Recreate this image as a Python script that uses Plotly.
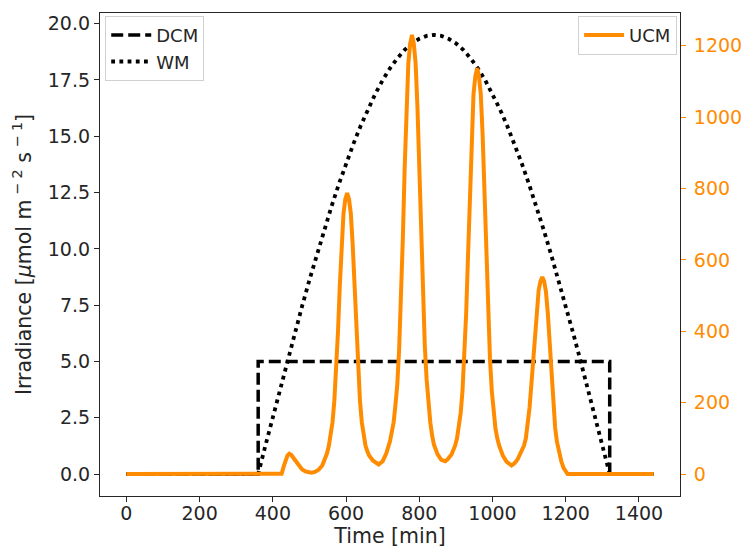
import plotly.graph_objects as go

# ---- data ----
dcm_t = [0, 360, 360, 1320, 1320, 1440]
dcm_v = [0, 0, 5, 5, 0, 0]

wm_t = [0, 360, 380, 400, 420, 440, 460, 480, 500, 520, 540, 560, 580, 600, 620, 640, 660,
        680, 700, 720, 740, 760, 780, 800, 820, 840, 860, 880, 900, 920, 940, 960, 980, 1000,
        1020, 1040, 1060, 1080, 1100, 1120, 1140, 1160, 1180, 1200, 1220, 1240, 1260, 1280,
        1300, 1320, 1440]
wm_v = [0, 0, 1.28, 2.54, 3.80, 5.05, 6.27, 7.46, 8.62, 9.75, 10.83, 11.87, 12.86, 13.79,
        14.66, 15.47, 16.21, 16.89, 17.49, 18.02, 18.46, 18.84, 19.13, 19.33, 19.46, 19.5,
        19.46, 19.33, 19.13, 18.84, 18.46, 18.02, 17.49, 16.89, 16.21, 15.47, 14.66, 13.79,
        12.86, 11.87, 10.83, 9.75, 8.62, 7.46, 6.27, 5.05, 3.80, 2.54, 1.28, 0, 0]

ucm_t = [0, 420, 424, 430, 435, 440, 445, 450, 460, 470, 480, 490, 500, 506, 515, 525, 535,
         543, 548, 553, 558, 563, 568, 573, 578, 583, 588, 593, 598, 603, 608, 613, 618, 623,
         628, 633, 638, 643, 648, 653, 658, 663, 673, 683, 689, 700, 710, 720, 725, 730, 735,
         740, 745, 750, 755, 760, 765, 770, 775, 780, 785, 790, 795, 800, 805, 810, 815, 820,
         825, 830, 835, 840, 850, 860, 871, 878, 888, 898, 903, 908, 913, 918, 923, 928, 933,
         938, 943, 948, 953, 958, 963, 968, 973, 978, 983, 988, 993, 998, 1003, 1008, 1013,
         1018, 1028, 1038, 1052, 1060, 1068, 1078, 1086, 1091, 1096, 1101, 1106, 1111, 1116,
         1121, 1126, 1131, 1136, 1141, 1146, 1151, 1156, 1161, 1166, 1171, 1176, 1182, 1188,
         1194, 1200, 1205, 1440]
ucm_v = [0, 0, 1, 22, 40, 52, 57, 54, 40, 24, 13, 7, 4, 4, 6, 12, 24,
         42, 58, 79, 105, 145, 205, 290, 400, 530, 645, 730, 770, 787, 770, 730, 645, 530,
         400, 290, 205, 145, 105, 80, 64, 52, 38, 29, 27, 36, 58, 92, 115, 145, 195,
         252, 350, 486, 658, 855, 1027, 1150, 1205, 1230, 1205, 1150, 1027, 855, 658, 486, 360, 265,
         195, 145, 108, 82, 55, 40, 36, 42, 55, 80, 100, 128, 171, 233, 324, 449, 608,
         790, 949, 1063, 1114, 1137, 1114, 1063, 949, 790, 608, 449, 324, 233, 171, 128, 100,
         80, 52, 35, 24, 30, 40, 62, 80, 100, 135, 185, 250, 320, 390,
         465, 515, 540, 552, 540, 510, 450, 365, 275, 195, 130, 90, 60, 35,
         17, 6, 0, 0]

left_ticks = [0, 2.5, 5, 7.5, 10, 12.5, 15, 17.5, 20]
right_ticks = [0, 200, 400, 600, 800, 1000, 1200]
x_ticks = [0, 200, 400, 600, 800, 1000, 1200, 1400]

ORANGE = "#ff8c00"
TXT = "#262626"
FONT = "DejaVu Sans"

fig = go.Figure()
fig.add_trace(go.Scatter(x=dcm_t, y=dcm_v, mode="lines", name="DCM",
                         line=dict(color="black", width=3.5, dash="12px,5px"),
                         legend="legend", legendgroup="a"))
fig.add_trace(go.Scatter(x=wm_t, y=wm_v, mode="lines", name="WM",
                         line=dict(color="black", width=3.8, dash="3.8px,4.4px"),
                         legend="legend", legendgroup="b"))
fig.add_trace(go.Scatter(x=ucm_t, y=ucm_v, mode="lines", name="UCM", yaxis="y2",
                         line=dict(color=ORANGE, width=4),
                         legend="legend2"))

fig.update_layout(
    width=744, height=548,
    margin=dict(l=100, r=64, t=13, b=52),
    paper_bgcolor="white", plot_bgcolor="white",
    font=dict(family=FONT, size=19, color=TXT),
    xaxis=dict(range=[-72, 1512], tickvals=x_ticks, ticks="outside", ticklen=5,
               tickcolor=TXT, showline=True, linecolor=TXT, linewidth=1.2, mirror=True,
               showgrid=False, zeroline=False, automargin=False, ticklabelstandoff=-5,
               title=dict(text="Time [min]", standoff=4, font=dict(size=20.5)),
               tickfont=dict(size=19)),
    yaxis=dict(range=[-0.975, 20.475], tickvals=left_ticks,
               ticktext=[f"{v:.1f}" for v in left_ticks], ticks="outside", ticklen=5,
               tickcolor=TXT, showline=True, linecolor=TXT, linewidth=1.2, mirror=True,
               showgrid=False, zeroline=False, automargin=False,
               title=dict(text="Irradiance [<i>μ</i>mol m<sup> − 2</sup> s<sup> − 1</sup>]",
                          standoff=10, font=dict(size=20.5)),
               tickfont=dict(size=19)),
    yaxis2=dict(range=[-61.5, 1291.5], tickvals=right_ticks, overlaying="y", side="right",
                ticks="outside", ticklen=5, tickcolor=ORANGE, showgrid=False, zeroline=False,
                showline=False, automargin=False, ticklabelstandoff=4,
                tickfont=dict(size=19, color=ORANGE)),
    legend=dict(x=0.009, y=0.994, xanchor="left", yanchor="top",
                bgcolor="rgba(255,255,255,0.85)", bordercolor="#d0d0d0", borderwidth=1,
                font=dict(size=18, color=TXT), tracegroupgap=0, itemwidth=40),
    legend2=dict(x=0.995, y=0.994, xanchor="right", yanchor="top",
                 bgcolor="rgba(255,255,255,0.85)", bordercolor="#d0d0d0", borderwidth=1,
                 font=dict(size=18, color=TXT), itemwidth=40),
    showlegend=True,
)

fig.write_html("out.html")
